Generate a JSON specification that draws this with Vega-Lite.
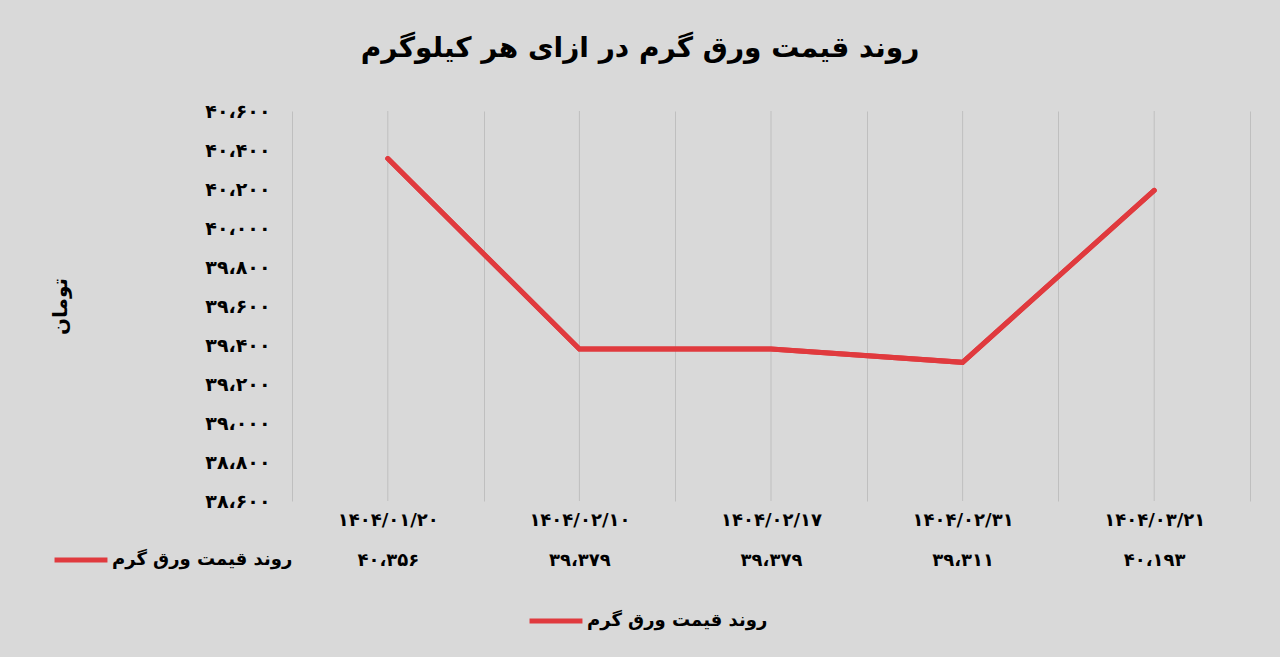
{
  "$schema": "https://vega.github.io/schema/vega-lite/v6.json",
  "autosize": {"type": "none"},
  "padding": {"left": 292, "top": 111, "right": 30, "bottom": 156},
  "width": 958,
  "height": 390,
  "background": "#d9d9d9",
  "config": {
    "view": {"stroke": null},
    "font": "DejaVu Sans",
    "locale": {
      "number": {
        "decimal": ".",
        "thousands": "،",
        "grouping": [3],
        "currency": ["", ""],
        "numerals": ["۰", "۱", "۲", "۳", "۴", "۵", "۶", "۷", "۸", "۹"]
      }
    },
    "legend": {"padding": 0},
    "axisY": {"labelOverlap": false}
  },
  "title": {
    "text": "روند قیمت ورق گرم در ازای  هر کیلوگرم",
    "font": "DejaVu Sans",
    "fontSize": 28,
    "fontWeight": "bold",
    "color": "#000000",
    "anchor": "middle",
    "dx": -131,
    "offset": 39
  },
  "data": {
    "values": [
      {"date": "۱۴۰۴/۰۱/۲۰", "price": 40356},
      {"date": "۱۴۰۴/۰۲/۱۰", "price": 39379},
      {"date": "۱۴۰۴/۰۲/۱۷", "price": 39379},
      {"date": "۱۴۰۴/۰۲/۳۱", "price": 39311},
      {"date": "۱۴۰۴/۰۳/۲۱", "price": 40193}
    ]
  },
  "layer": [
    {
      "mark": {"type": "rule", "color": "#bfbfbf", "strokeWidth": 1},
      "encoding": {
        "x": {"field": "date", "type": "ordinal", "sort": null, "bandPosition": 0.5,
              "scale": {"type": "band", "paddingInner": 0, "paddingOuter": 0}}
      }
    },
    {
      "mark": {"type": "line", "strokeWidth": 5, "strokeCap": "round", "strokeJoin": "miter"},
      "encoding": {
        "x": {
          "field": "date", "type": "ordinal", "sort": null, "bandPosition": 0.5,
          "scale": {"type": "band", "paddingInner": 0, "paddingOuter": 0},
          "axis": {
            "title": null,
            "domain": false,
            "ticks": false,
            "grid": true,
            "tickBand": "extent",
            "gridColor": "#bfbfbf",
            "gridWidth": 1,
            "labelAngle": 0,
            "labelAlign": "center",
            "labelFont": "DejaVu Sans",
            "labelFontSize": 18,
            "labelFontWeight": "bold",
            "labelColor": "#000000",
            "labelPadding": 19,
            "labelLineHeight": 40,
            "labelExpr": "[datum.label, {'۱۴۰۴/۰۱/۲۰': '۴۰،۳۵۶', '۱۴۰۴/۰۲/۱۰': '۳۹،۳۷۹', '۱۴۰۴/۰۲/۱۷': '۳۹،۳۷۹', '۱۴۰۴/۰۲/۳۱': '۳۹،۳۱۱', '۱۴۰۴/۰۳/۲۱': '۴۰،۱۹۳'}[datum.value]]"
          }
        },
        "y": {
          "field": "price", "type": "quantitative",
          "scale": {"domain": [38600, 40600], "zero": false, "nice": false},
          "axis": {
            "title": "تومان",
            "titleFont": "DejaVu Sans",
            "titleFontSize": 20,
            "titleFontWeight": "bold",
            "titleColor": "#000000",
            "titleX": -222,
            "values": [38600, 38800, 39000, 39200, 39400, 39600, 39800, 40000, 40200, 40400, 40600],
            "tickCount": 11,
            "format": ",d",
            "labelOverlap": false,
            "domain": false,
            "ticks": false,
            "grid": false,
            "labelFont": "DejaVu Sans",
            "labelFontSize": 19,
            "labelFontWeight": "bold",
            "labelColor": "#000000",
            "labelPadding": 22
          }
        },
        "color": {
          "datum": "روند قیمت ورق گرم",
          "scale": {"range": ["#e03a3e"]},
          "legend": {
            "title": null,
            "orient": "none",
            "legendX": 235,
            "legendY": 481,
            "symbolType": "stroke",
            "symbolSize": 2800,
            "symbolStrokeWidth": 5,
            "labelFont": "DejaVu Sans",
            "labelFontSize": 18,
            "labelFontWeight": "bold",
            "labelColor": "#000000",
            "labelOffset": 2,
            "labelLimit": 400
          }
        }
      }
    },
    {
      "mark": {"type": "line", "strokeWidth": 5, "strokeCap": "round", "strokeJoin": "miter"},
      "encoding": {
        "x": {"field": "date", "type": "ordinal", "sort": null, "bandPosition": 0.5,
              "scale": {"type": "band", "paddingInner": 0, "paddingOuter": 0}},
        "y": {"field": "price", "type": "quantitative",
              "axis": {"values": [38600, 38800, 39000, 39200, 39400, 39600, 39800, 40000, 40200, 40400, 40600], "labelOverlap": false}},
        "color": {
          "datum": "روند قیمت ورق گرم",
          "legend": {
            "title": null,
            "orient": "none",
            "legendX": -240,
            "legendY": 420,
            "symbolType": "stroke",
            "symbolSize": 2800,
            "symbolStrokeWidth": 5,
            "labelFont": "DejaVu Sans",
            "labelFontSize": 18,
            "labelFontWeight": "bold",
            "labelColor": "#000000",
            "labelOffset": 2,
            "labelLimit": 400
          }
        }
      }
    }
  ],
  "resolve": {"legend": {"color": "independent"}}
}
